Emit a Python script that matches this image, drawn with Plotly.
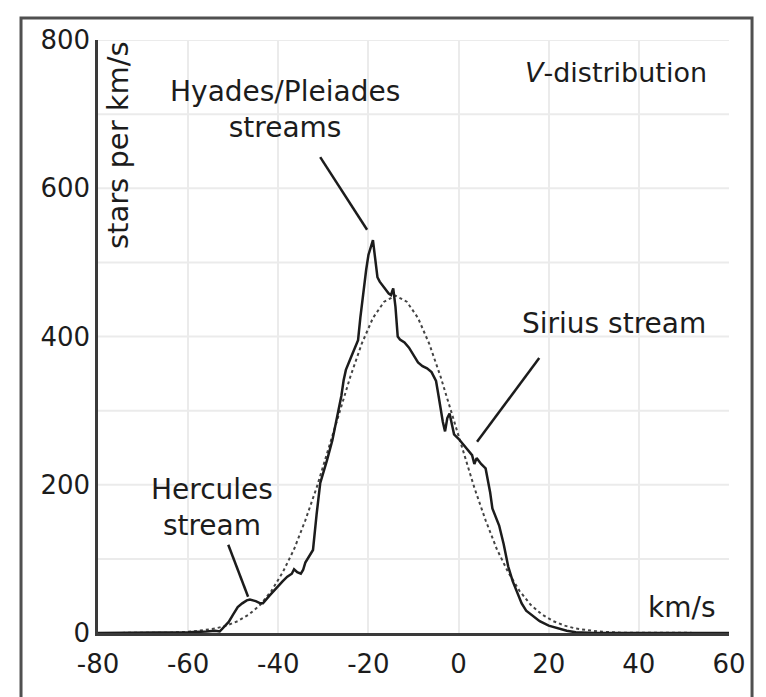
import plotly.graph_objects as go

v_obs = [-80, -70, -60, -56, -54, -53, -52, -51, -50, -49, -48, -47, -46.3, -45, -44, -43.4,
         -42, -41, -40, -39, -38, -37, -36.5, -35.8, -35, -34.5, -34, -33.5, -32.3, -31.5,
         -30.7, -29.2, -28, -27, -26, -25.5, -25, -24, -23, -22.3, -21.8, -21.2, -20.5, -20,
         -19.5, -19, -18.5, -18, -17.5, -17, -16, -15.5, -15, -14.5, -14, -13.5, -13, -12,
         -11, -10, -9, -8, -7, -6, -5, -4.5, -4, -3.5, -3, -2.5, -2, -1.5, -1, 0, 1, 2, 3,
         3.5, 4, 4.5, 5, 6, 7, 7.5, 8, 9, 10, 11, 12, 13, 14, 15, 16, 17, 18, 20, 22, 24,
         26, 30, 60]
n_obs = [0, 0, 1, 2, 3, 2, 8, 15, 25, 35, 40, 44, 45, 43, 40, 40,
         50, 57, 64, 70, 76, 80, 86, 82, 80, 85, 95, 100, 112, 160,
         202, 233, 260, 290, 320, 341, 355, 370, 385, 395, 425, 459, 490, 510,
         522, 530, 505, 480, 474, 470, 462, 458, 456, 465, 440, 400, 396, 392,
         385, 375, 365, 360, 357, 352, 340, 322, 300, 285, 272, 290, 296, 282, 268, 262, 255, 248, 240,
         228, 236, 232, 228, 222, 190, 168, 160, 145, 120, 90, 70, 55, 40, 30, 25, 20, 16, 10, 6, 3,
         1, 0, 0]

# smooth fit (dotted)
v_fit = [-80, -64, -59, -54, -51.5, -49, -46.5, -44, -41.5, -39, -36.5, -34, -31.5, -29, -26.5,
         -24, -21.5, -19, -16.5, -14, -11.5, -9, -6.5, -4, -1.5, 1, 3.5, 6, 8.5, 11, 13.5, 16,
         18.5, 21, 23.5, 26, 31, 36, 60]
n_fit = [0, 0.5, 2, 6, 10, 16, 25, 38, 57, 82, 113, 152, 196, 245, 296,
         346, 390, 425, 447, 455, 447, 425, 390, 346, 296, 245, 196, 152, 113, 82, 57, 38,
         25, 16, 10, 6, 2, 0.5, 0]

x_ticks = [-80, -60, -40, -20, 0, 20, 40, 60]
y_ticks = [0, 200, 400, 600, 800]

labels = [
    ("Hyades/Pleiades<br>streams", -38.5, 706),
    ("Sirius stream", 34.5, 417),
    ("Hercules<br>stream", -54.7, 169),
]
pointers = [
    (-30.7, 642, -20.3, 544),
    (17.9, 371, 4.1, 258),
    (-51.1, 119, -46.7, 49),
]

FONT = "DejaVu Sans"
INK = "#1c1c1c"

fig = go.Figure()
fig.add_trace(go.Scatter(x=v_fit, y=n_fit, mode="lines",
                         line=dict(color="#444444", width=2, dash="dot")))
fig.add_trace(go.Scatter(x=v_obs, y=n_obs, mode="lines",
                         line=dict(color=INK, width=2.5)))

for x0, y0, x1, y1 in pointers:
    fig.add_trace(go.Scatter(x=[x0, x1], y=[y0, y1], mode="lines",
                             line=dict(color=INK, width=2.5)))

for txt, x, y in labels:
    fig.add_annotation(x=x, y=y, text=txt, showarrow=False, xref="x", yref="y",
                       font=dict(family=FONT, size=28, color=INK), align="center")

fig.add_annotation(x=34.9, y=756, text="<i>V</i>-distribution", showarrow=False,
                   font=dict(family=FONT, size=27, color=INK))
fig.add_annotation(x=49.6, y=34, text="km/s", showarrow=False,
                   font=dict(family=FONT, size=28, color=INK))
fig.add_annotation(x=-75.6, y=658, text="stars per km/s", showarrow=False, textangle=-90,
                   font=dict(family=FONT, size=29, color=INK))

# outer frame
fig.add_shape(type="rect", xref="paper", yref="paper", x0=-0.122, x1=1.0365,
              y0=-0.14, y1=1.037, line=dict(color="#505050", width=3))

fig.update_xaxes(range=[-80, 60], tickvals=x_ticks, ticktext=[str(t) for t in x_ticks],
                 showgrid=True, gridcolor="#ebebeb", gridwidth=2, showline=True,
                 linecolor="#3a3a3a", linewidth=2.5, zeroline=False, ticks="",
                 ticklabelstandoff=6, tickfont=dict(family=FONT, size=26, color=INK))
fig.update_yaxes(range=[0, 800], tickvals=y_ticks, showgrid=False,
                 showline=True, linecolor="#3a3a3a", linewidth=2.5, zeroline=False,
                 ticks="", ticklabelstandoff=0, tickfont=dict(family=FONT, size=26, color=INK))
# horizontal grid every 100
for g in range(100, 900, 100):
    fig.add_hline(y=g, line=dict(color="#ebebeb", width=2), layer="below")

fig.update_layout(width=766, height=697, showlegend=False,
                  margin=dict(l=90, r=45, t=32, b=72),
                  plot_bgcolor="white", paper_bgcolor="white")

fig.write_html("out.html")
